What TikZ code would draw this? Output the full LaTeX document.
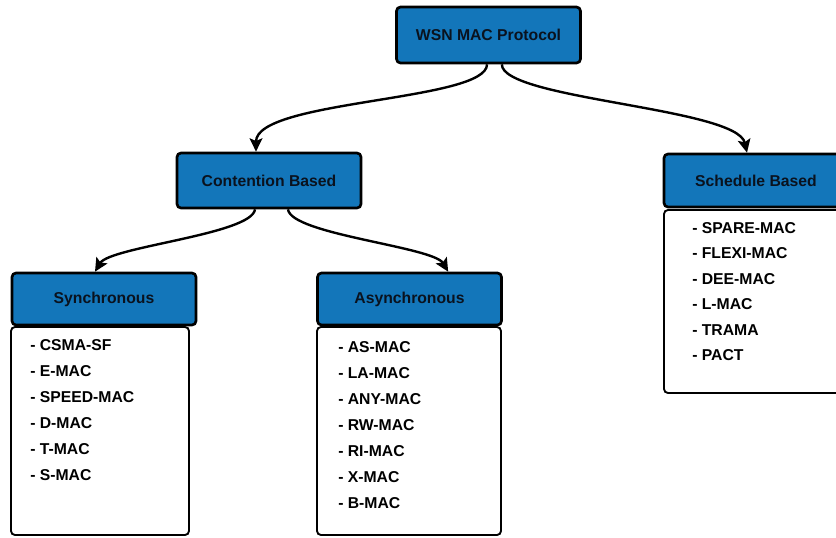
\documentclass[tikz,border=0pt]{standalone}
\usepackage{fontspec}
\setmainfont{Liberation Sans}
\usetikzlibrary{arrows.meta}
\definecolor{macblue}{RGB}{19, 118, 186}
\definecolor{headink}{RGB}{10, 18, 30}

\begin{document}
\begin{tikzpicture}[
    x=0.75pt, y=-0.75pt,
    font=\bfseries\fontsize{11.8}{14}\selectfont,
    head/.style={draw, fill=macblue, text=headink, rounded corners=3pt,
        line width=2pt, minimum width=138pt, minimum height=#1, inner sep=0pt},
    head/.default=40pt,
    listbox/.style={draw, fill=white, rounded corners=3pt, line width=1.4pt,
        inner sep=0pt},
    item/.style={anchor=base west, inner sep=0pt},
    link/.style={-{Stealth[length=10pt, width=9.5pt, inset=2pt]}, line width=1.8pt}
]
    \useasboundingbox (0, 0) rectangle (836, 537);

    % Headers
    \node[head=42pt]    (wsn)   at (488.5, 35)  {WSN MAC Protocol};
    \node[head=41.25pt] (cont)  at (269, 180.5) {Contention Based};
    \node[head=39.75pt] (sched) at (756, 180.5) {Schedule Based};
    \node[head=39pt]    (sync)  at (104, 299)   {Synchronous};
    \node[head=39pt]    (async) at (409.5, 299) {Asynchronous};

    % List boxes
    \node[listbox, minimum width=133.5pt, minimum height=156pt]    (synclist)  at (100, 431)   {};
    \node[listbox, minimum width=138pt, minimum height=156pt]      (asynclist) at (409, 431)   {};
    \node[listbox, minimum width=133.5pt, minimum height=137.25pt] (schedlist) at (753, 301.5) {};

    % Protocols
    \foreach \name [count=\i] in {CSMA-SF, E-MAC, SPEED-MAC, D-MAC, T-MAC, S-MAC}
        \node[item] (sync\i) at (30, 324+26*\i) {- \name};
    \foreach \name [count=\i] in {AS-MAC, LA-MAC, ANY-MAC, RW-MAC, RI-MAC, X-MAC, B-MAC}
        \node[item] (async\i) at (338, 326+26*\i) {- \name};
    \foreach \name [count=\i] in {SPARE-MAC, FLEXI-MAC, DEE-MAC, L-MAC, TRAMA, PACT}
        \node[item] (sched\i) at (692, 207.5+25.5*\i) {- \name};

    % Arrows
    \draw[link] ([xshift=-1.1pt]wsn.south) .. controls +(0, 37) and +(0, -52) .. ([xshift=-9.75pt]cont.north);
    \draw[link] ([xshift=10pt]wsn.south) .. controls +(0, 35) and +(-10, -45) .. ([xshift=-6.75pt]sched.north);
    \draw[link] ([xshift=-10.5pt]cont.south) .. controls +(-3, 25) and +(15, -25) .. ([xshift=-6.75pt]sync.north);
    \draw[link] ([xshift=14.25pt]cont.south) .. controls +(3, 25) and +(-15, -25) .. ([xshift=29pt]async.north);

\end{tikzpicture}
\end{document}
